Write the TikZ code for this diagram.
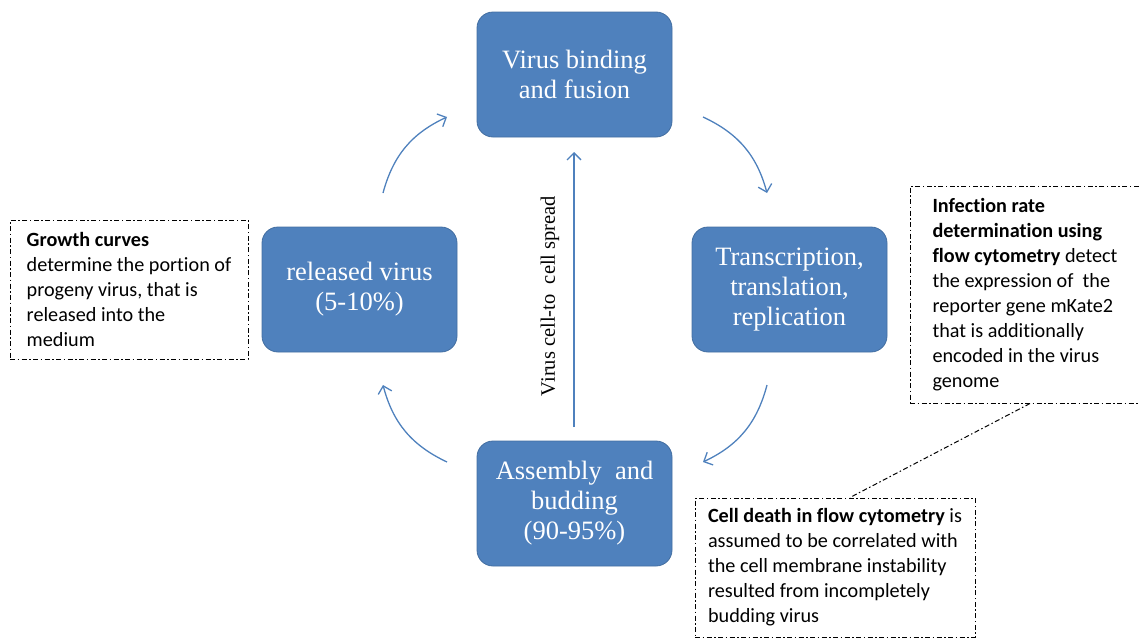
\documentclass[tikz,border=0pt]{standalone}
\usepackage{fontspec}
\setmainfont{Liberation Serif}
\newfontfamily\calib[Ligatures=NoCommon]{Carlito}
\usetikzlibrary{arrows.meta,calc}
\definecolor{boxblue}{HTML}{4F81BD}
\begin{document}
\begin{tikzpicture}[x=1pt,y=-1pt,
 stage/.style={draw=boxblue!85!black, line width=0.8pt, fill=boxblue, rounded corners=16pt, minimum width=195pt, minimum height=125pt, text=white, align=center, font=\fontsize{26.5}{30}\selectfont, inner sep=0pt},
 cyc/.style={draw=boxblue, line width=1.3pt, -{Straight Barb[length=7pt,width=14pt]}},
 note/.style={draw, line width=1pt, dash pattern=on 5pt off 2.5pt on 1.5pt off 2.5pt, align=left, font=\calib\fontsize{20.2}{25}\selectfont, inner xsep=0pt, inner ysep=0pt},
 notelink/.style={draw, line width=1pt, dash pattern=on 5pt off 2.5pt on 1.5pt off 2.5pt}
]
\useasboundingbox (0,0) rectangle (1140,637);

\node[stage] (bind) at (574.5,74.5) {Virus binding\\and fusion};
\node[stage] (trans) at (789.5,289.5) {Transcription,\\translation,\\replication};
\node[stage] (assem) at (574.5,503.5) {Assembly\ \ and\\budding\\(90-95\%)};
\node[stage] (rel) at (359.5,289.5) {released virus\\(5-10\%)};

\coordinate (a1s) at (703,117); \coordinate (a1e) at (767,193);
\coordinate (a2s) at (767,385); \coordinate (a2e) at (703,462);
\coordinate (a3s) at (447,462); \coordinate (a3e) at (383,385);
\coordinate (a4s) at (383,193); \coordinate (a4e) at (447,117);
\draw[cyc] (a1s) to[bend left=25] (a1e);
\draw[cyc] (a2s) to[bend left=25] (a2e);
\draw[cyc] (a3s) to[bend left=25] (a3e);
\draw[cyc] (a4s) to[bend left=25] (a4e);

\coordinate (vs) at (574,427); \coordinate (ve) at (574,152);
\draw[cyc] (vs) -- (ve);
\node[rotate=90, font=\fontsize{20.5}{22}\selectfont] (vlab) at (550,296) {Virus cell-to\ \ cell spread};

\node[note, minimum width=238pt, minimum height=139pt] (growth) at (129,289.5)
 {\textbf{Growth curves}\\determine the portion of\\progeny virus, that is\\released into the\\medium};
\node[note, minimum width=230pt, minimum height=217pt] (infect) at (1025,294.5)
 {\textbf{Infection rate}\\\textbf{determination using}\\\textbf{flow cytometry} detect\\the expression of\ \ the\\reporter gene mKate2\\that is additionally\\encoded in the virus\\genome};
\node[note, minimum width=280pt, minimum height=139pt] (death) at (835,567.5)
 {\textbf{Cell death in flow cytometry} is\\assumed to be correlated with\\the cell membrane instability\\resulted from incompletely\\budding virus};
\draw[notelink] ([xshift=5pt]infect.south) -- ([xshift=15pt]death.north);
\end{tikzpicture}
\end{document}
